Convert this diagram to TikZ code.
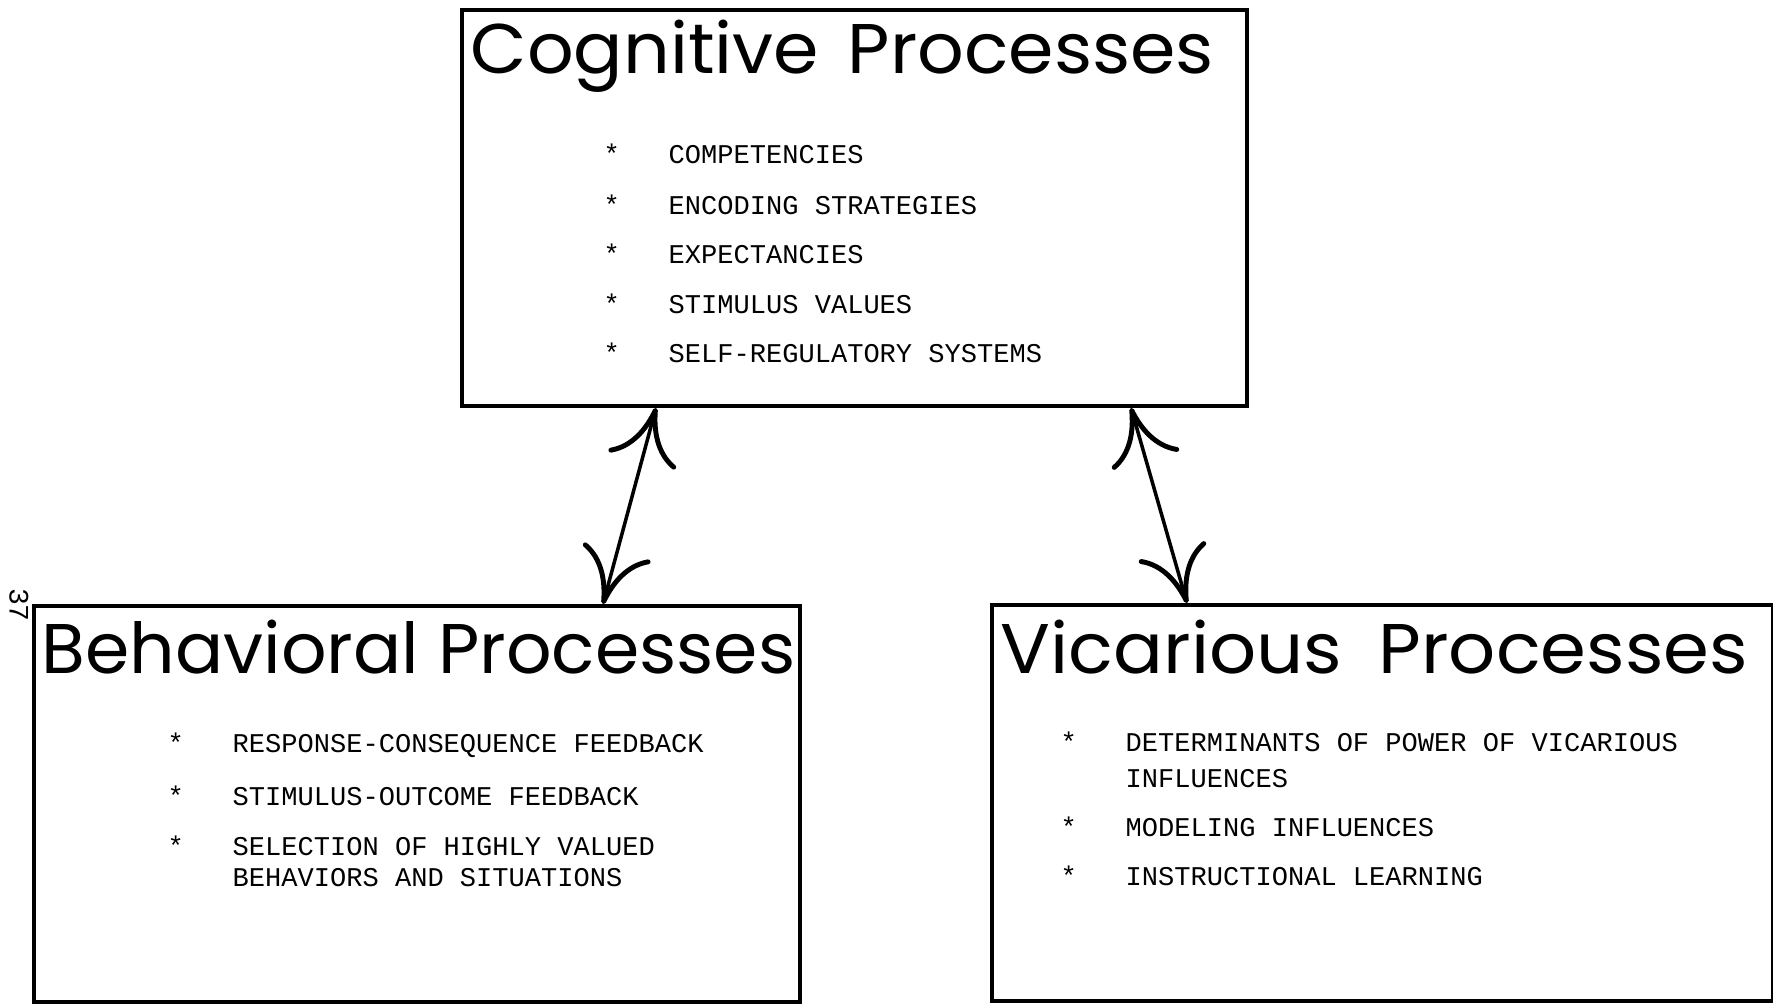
\documentclass[tikz,border=0pt]{standalone}
\usepackage{fontspec}
\usetikzlibrary{arrows.meta}
\newfontfamily\headfont{Poppins}
\newfontfamily\typefont{Liberation Mono}

\begin{document}
\begin{tikzpicture}[
	procbox/.style={draw, line width=1.1pt, minimum width=#1, minimum height=3.96cm, inner sep=0pt},
	heading/.style={anchor=west, inner sep=0pt, transform shape, font=\headfont\fontsize{20}{24}\selectfont},
	item/.style={anchor=west, inner sep=0pt, align=left, font=\typefont\fontsize{7.7}{8.8}\selectfont},
	twoway/.style={line width=1pt, {Computer Modern Rightarrow[length=5.5mm,width=7mm,line width=1.4pt]}-{Computer Modern Rightarrow[length=5.5mm,width=7mm,line width=1.4pt]}}
]
	\useasboundingbox (0,0) rectangle (17.73,-10.05);
	
	% the three boxes
	\node[procbox=7.85cm] (cog) at (8.545,-2.08) {};
	\node[procbox=7.66cm] (beh) at (4.17,-8.04) {};
	\node[procbox=7.81cm] (vic) at (13.825,-8.03) {};
	
	\node[heading, xscale=1.04] (cogtitle) at (4.70,-0.56) {Cognitive\hspace{0.09cm} Processes};
	\node[heading, xscale=1.015] (behtitle) at (0.41,-6.47) {Behavioral Processes};
	\node[heading, xscale=1.05] (victitle) at (10.00,-6.47) {Vicarious\hspace{0.16cm} Processes};
	
	% cognitive
	\node[item] (cog1) at (6.03,-1.54) {*\ \ \ COMPETENCIES};
	\node[item] (cog2) at (6.03,-2.05) {*\ \ \ ENCODING STRATEGIES};
	\node[item] (cog3) at (6.03,-2.54) {*\ \ \ EXPECTANCIES};
	\node[item] (cog4) at (6.03,-3.04) {*\ \ \ STIMULUS VALUES};
	\node[item] (cog5) at (6.03,-3.53) {*\ \ \ SELF-REGULATORY SYSTEMS};
	
	% behavioral
	\node[item] (beh1) at (1.67,-7.45) {*\ \ \ RESPONSE-CONSEQUENCE FEEDBACK};
	\node[item] (beh2) at (1.67,-7.96) {*\ \ \ STIMULUS-OUTCOME FEEDBACK};
	\node[item] (beh3) at (1.67,-8.615) {*\ \ \ SELECTION OF HIGHLY VALUED\\\hphantom{*\ \ \ }BEHAVIORS AND SITUATIONS};
	
	% vicarious
	\node[item] (vic1) at (10.60,-7.60) {*\ \ \ DETERMINANTS OF POWER OF VICARIOUS\\[1.4pt]\hphantom{*\ \ \ }INFLUENCES};
	\node[item] (vic2) at (10.60,-8.27) {*\ \ \ MODELING INFLUENCES};
	\node[item] (vic3) at (10.60,-8.76) {*\ \ \ INSTRUCTIONAL LEARNING};
	
	\node[rotate=-90, inner sep=0pt, font=\typefont\fontsize{8}{9}\selectfont] (page) at (0.19,-6.05) {37};
	
	\coordinate (cogl) at (6.56,0 |- cog.south);
	\coordinate (cogr) at (11.31,0 |- cog.south);
	\coordinate (behup) at (6.03,0 |- beh.north);
	\coordinate (vicup) at (11.87,0 |- vic.north);
	
	\draw[twoway] (cogl) -- (behup);
	\draw[twoway] (cogr) -- (vicup);
	
\end{tikzpicture}
\end{document}
